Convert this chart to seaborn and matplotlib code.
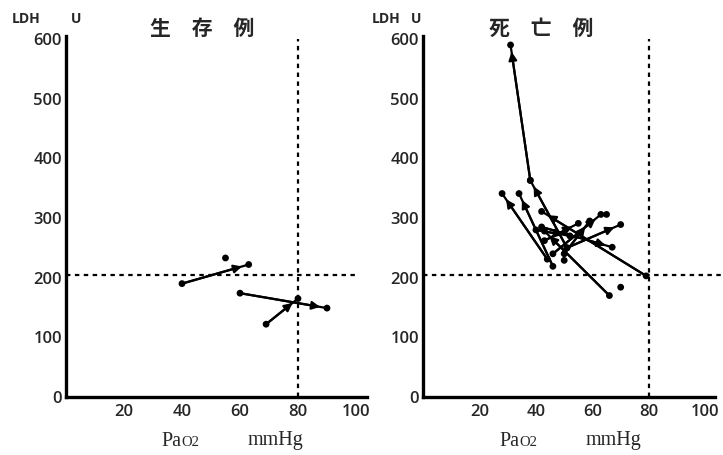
import matplotlib
matplotlib.use("Agg")
import matplotlib.pyplot as plt
import seaborn as sns
import pandas as pd

# survivors: arrows (start -> end), Pao2 mmHg / LDH U
surv_x0 = [40, 60, 69]
surv_y0 = [190, 174, 122]
surv_x1 = [63, 90, 80]
surv_y1 = [222, 149, 165]
surv_dot_x = [55]
surv_dot_y = [233]

# deaths
dead_x0 = [38, 51, 44, 46, 79, 66, 46, 51, 42, 40, 43, 50]
dead_y0 = [363, 250, 231, 219, 203, 170, 240, 250, 285, 280, 262, 240]
dead_x1 = [31, 38, 28, 34, 42, 43, 63, 70, 67, 52, 55, 59]
dead_y1 = [590, 363, 341, 341, 311, 278, 306, 289, 251, 270, 291, 295]
dead_dot_x = [50, 70, 65]
dead_dot_y = [229, 184, 306]

x_ticks = [20, 40, 60, 80, 100]
y_ticks = [0, 100, 200, 300, 400, 500, 600]
titles = ["生　存　例", "死　亡　例"]
ldh_limit = 205
pao2_limit = 80

sns.set_style("white")
plt.rcParams["font.family"] = ["Open Sans", "Liberation Sans", "Noto Sans CJK JP"]

fig = plt.figure(figsize=(7.23, 4.55), dpi=100)
ax1 = fig.add_axes([66 / 723, 1 - 397 / 455, 301 / 723, 361 / 455])
ax2 = fig.add_axes([423 / 723, 1 - 397 / 455, 292 / 723, 361 / 455])


def draw_panel(ax, x0, y0, x1, y1, dx, dy, xmax, hline_end):
    seg = pd.DataFrame({"x0": x0, "y0": y0, "x1": x1, "y1": y1})
    for _, r in seg.iterrows():
        sns.lineplot(x=[r.x0, r.x1], y=[r.y0, r.y1], ax=ax, color="black",
                     lw=1.6, sort=False, estimator=None)
        ax.annotate("", xy=(r.x1, r.y1), xytext=(r.x0, r.y0),
                    arrowprops=dict(arrowstyle="-|>", color="black", lw=1.6,
                                    shrinkA=0, shrinkB=5, mutation_scale=12))
    pts = pd.DataFrame({"x": list(x0) + list(x1) + list(dx),
                        "y": list(y0) + list(y1) + list(dy)})
    sns.scatterplot(data=pts, x="x", y="y", ax=ax, color="black", s=24,
                    edgecolor="none", zorder=5)

    ax.plot([pao2_limit, pao2_limit], [0, 600], color="black", lw=1.6,
            ls=(0, (2, 2)))
    ax.plot([0, hline_end], [ldh_limit, ldh_limit], color="black", lw=1.6,
            ls=(0, (2, 2)), clip_on=False)

    ax.set_xlim(0, xmax)
    ax.set_ylim(0, 605)
    ax.set_xticks(x_ticks)
    ax.set_yticks(y_ticks)
    ax.tick_params(length=0, labelsize=12)
    ax.tick_params(axis="y", pad=3)
    ax.tick_params(axis="x", pad=5)
    for lab in ax.get_xticklabels() + ax.get_yticklabels():
        lab.set_fontweight("semibold")
    ax.set_xlabel("")
    ax.set_ylabel("")
    for s in ["top", "right"]:
        ax.spines[s].set_visible(False)
    for s in ["left", "bottom"]:
        ax.spines[s].set_linewidth(2.4)
        ax.spines[s].set_color("black")
    ax.grid(False)


draw_panel(ax1, surv_x0, surv_y0, surv_x1, surv_y1, surv_dot_x, surv_dot_y,
           103.8, 100)
draw_panel(ax2, dead_x0, dead_y0, dead_x1, dead_y1, dead_dot_x, dead_dot_y,
           103.4, 106.5)


# titles and unit labels in figure pixels
def fx(px):
    return px / 723


def fy(py):
    return 1 - py / 455


cjk = ["Noto Sans CJK JP", "DejaVu Sans"]
fig.text(fx(202), fy(28), titles[0], ha="center", va="center", fontsize=15,
         fontweight="bold", family=cjk)
fig.text(fx(541), fy(28), titles[1], ha="center", va="center", fontsize=15,
         fontweight="bold", family=cjk)

for lx, ux in [(12, 71), (372, 411)]:
    fig.text(fx(lx), fy(19), "LDH", ha="left", va="center", fontsize=10,
             fontweight="bold")
    fig.text(fx(ux), fy(19), "U", ha="left", va="center", fontsize=10,
             fontweight="bold")

serif = ["Liberation Serif", "DejaVu Serif"]
for px, mx in [(161, 248), (499, 586)]:
    fig.text(fx(px), fy(442), "Pa", ha="left", va="center", fontsize=14.5,
             family=serif)
    fig.text(fx(px + 20), fy(443), "O2", ha="left", va="center", fontsize=10.5,
             family=serif)
    fig.text(fx(mx), fy(441), "mmHg", ha="left", va="center", fontsize=14.5,
             family=serif)

fig.savefig("out.png", dpi=100)
